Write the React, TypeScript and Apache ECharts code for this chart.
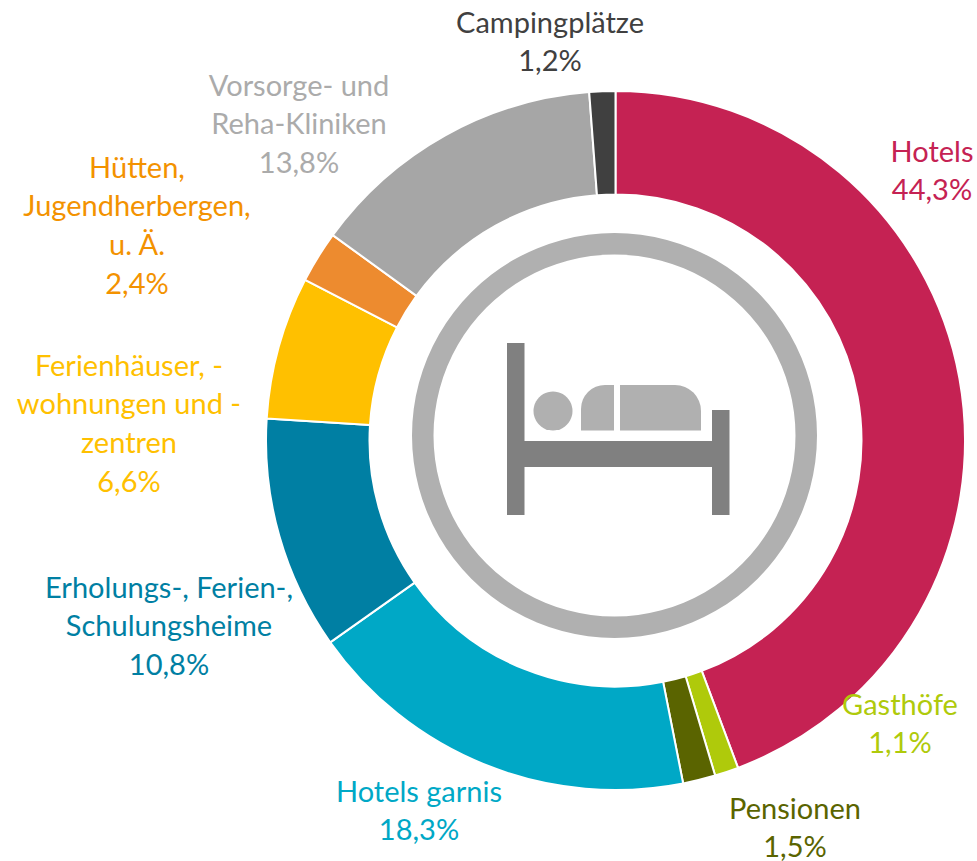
import React, { useEffect, useRef } from "react";
import * as echarts from "echarts";

const categories = [
  "Hotels",
  "Gasthöfe",
  "Pensionen",
  "Hotels garnis",
  "Erholungs-, Ferien-,\nSchulungsheime",
  "Ferienhäuser, -\nwohnungen und -\nzentren",
  "Hütten,\nJugendherbergen,\nu. Ä.",
  "Vorsorge- und\nReha-Kliniken",
  "Campingplätze",
];
const shares = [44.3, 1.1, 1.5, 18.3, 10.8, 6.6, 2.4, 13.8, 1.2];
const sliceColors = ["#C52253", "#AFCA0B", "#5A6400", "#00A8C6", "#007FA3", "#FFC000", "#ED8B2F", "#A6A6A6", "#404040"];
const labelColors = ["#C52253", "#AFCA0B", "#5A6400", "#00A8C6", "#007FA3", "#FFC000", "#F39200", "#ABABAB", "#404040"];
const labelAnchors = [
  [932, 131],
  [900, 684],
  [795, 788],
  [419, 771],
  [169, 567],
  [129, 345],
  [137, 147],
  [299, 65],
  [550, 2],
];

export default function App() {
  const ref = useRef<HTMLDivElement>(null);
  useEffect(() => {
    document.body.style.margin = "0";
    const chart = echarts.init(ref.current!, null, { renderer: "svg" });
    chart.setOption({
      animation: false,
      backgroundColor: "#fff",
      series: [
        {
          type: "pie",
          center: [615.5, 440.5],
          radius: [246, 349.5],
          startAngle: 90,
          clockwise: true,
          silent: true,
          avoidLabelOverlap: false,
          itemStyle: { borderColor: "#fff", borderWidth: 2 },
          label: {
            show: true,
            position: "outside",
            formatter: (p: any) => `${p.name}\n${String(p.value).replace(".", ",")}%`,
            fontFamily: "Lato",
            fontSize: 29,
            lineHeight: 38.6,
            align: "center",
          },
          labelLine: { show: false },
          labelLayout: (p: any) => ({
            x: labelAnchors[p.dataIndex][0],
            y: labelAnchors[p.dataIndex][1],
            align: "center",
            verticalAlign: "top",
          }),
          data: categories.map((name, i) => ({
            name,
            value: shares[i],
            itemStyle: { color: sliceColors[i] },
            label: { color: labelColors[i] },
          })),
        },
      ],
      graphic: [
        { type: "ring", shape: { cx: 614.5, cy: 435.5, r: 202.5, r0: 181 }, style: { fill: "#B0B0B0" } },
        { type: "rect", shape: { x: 507, y: 343, width: 17.5, height: 172 }, style: { fill: "#808080" } },
        { type: "rect", shape: { x: 712, y: 410, width: 17.5, height: 105 }, style: { fill: "#808080" } },
        { type: "rect", shape: { x: 507, y: 441, width: 222, height: 26 }, style: { fill: "#808080" } },
        { type: "circle", shape: { cx: 553, cy: 411, r: 19.5 }, style: { fill: "#B0B0B0" } },
        { type: "rect", shape: { x: 581, y: 385, width: 33, height: 45.5, r: [24, 0, 0, 0] }, style: { fill: "#B0B0B0" } },
        { type: "rect", shape: { x: 620, y: 385, width: 81, height: 45.5, r: [0, 26, 0, 0] }, style: { fill: "#B0B0B0" } },
      ],
    });
    return () => chart.dispose();
  }, []);
  return <div ref={ref} style={{ width: 977, height: 861 }} />;
}
